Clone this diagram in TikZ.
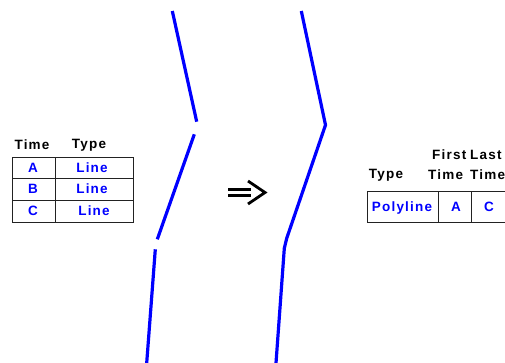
\documentclass[tikz,border=0pt]{standalone}
\usepackage{fontspec}
\setmainfont{Liberation Sans}
\newfontfamily\tblfont[LetterSpace=9]{Liberation Sans}
\begin{document}
\begin{tikzpicture}[x=1pt, y=-1pt, font=\tblfont\bfseries\fontsize{13.5}{15}\selectfont]
    % --- Colores ---
    \definecolor{trackblue}{HTML}{0000FF}
    \definecolor{gridline}{HTML}{222222}
    \tikzset{
        track/.style={trackblue, line width=3.2pt, line join=round},
        gridrule/.style={gridline, line width=1pt},
        headtxt/.style={black, inner sep=0pt},
        celltxt/.style={trackblue, inner sep=0pt}
    }
    \useasboundingbox (0,0) rectangle (505,362);

    % --- Tabla izquierda: cabecera ---
    \node[headtxt] (ltime) at (32,145) {Time};
    \node[headtxt] (ltype) at (89,145) {Type};

    % --- Tabla izquierda: rejilla ---
    \draw[gridrule] (12,157) rectangle (133,222);
    \foreach \y in {178.5,200} {
        \draw[gridrule] (12,\y) -- (133,\y);
    }
    \draw[gridrule] (55,157) -- (55,222);

    % --- Tabla izquierda: filas ---
    \node[celltxt] (ta) at (33,168) {A};
    \node[celltxt] (tb) at (33,189) {B};
    \node[celltxt] (tc) at (33,211) {C};
    \node[celltxt] (la) at (92,168) {Line};
    \node[celltxt] (lb) at (92,189) {Line};
    \node[celltxt] (lc) at (94,211) {Line};

    % --- Tramos separados (antes) ---
    \draw[track] (172.3,11) -- (196.7,121.7);
    \draw[track] (194.3,134.3) -- (157.3,239.3);
    \draw[track] (155.3,249.3) -- (146.7,363);

    % --- Flecha doble ---
    \draw[black, line width=2.8pt] (228,189.5) -- (251,189.5);
    \draw[black, line width=2.8pt] (228,195.5) -- (251,195.5);
    \draw[black, line width=2.8pt] (248,181) -- (265,192.5) -- (248,204);

    % --- Polilinea unida (despues) ---
    \draw[track] (301.3,11) -- (325.5,125) -- (286.7,238.3)
        -- (284.3,248.3) -- (276,363);

    % --- Tabla derecha: cabecera ---
    \node[headtxt] (rtype) at (386,175) {Type};
    \node[headtxt, anchor=west] (rfirst) at (432,155) {First};
    \node[headtxt, anchor=west] (rlast) at (470,155) {Last};
    \node[headtxt, anchor=west] (rtime1) at (428,175) {Time};
    \node[headtxt, anchor=west] (rtime2) at (470,175) {Time};

    % --- Tabla derecha: rejilla ---
    \draw[gridrule] (367,191) rectangle (507,222);
    \foreach \x in {438,471} {
        \draw[gridrule] (\x,191) -- (\x,222);
    }

    % --- Tabla derecha: fila ---
    \node[celltxt] (rpoly) at (402,208) {Polyline};
    \node[celltxt] (rfa) at (456,207) {A};
    \node[celltxt] (rlc) at (489,207) {C};
\end{tikzpicture}
\end{document}
